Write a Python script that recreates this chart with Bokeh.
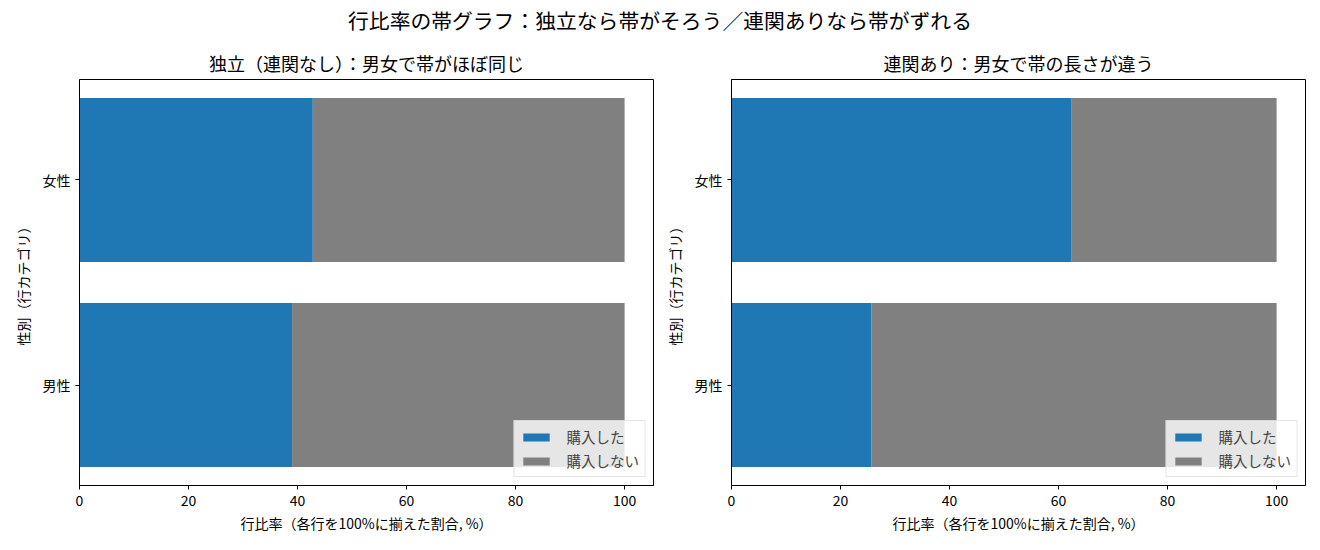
from bokeh.plotting import figure
from bokeh.models import Range1d, FixedTicker, Div, Legend, LegendItem, ColumnDataSource
from bokeh.layouts import column, row
from bokeh.embed import file_html
from bokeh.resources import INLINE

FONT = "Noto Sans CJK JP"

suptitle = "行比率の帯グラフ：独立なら帯がそろう／連関ありなら帯がずれる"
titles = ["独立（連関なし）：男女で帯がほぼ同じ", "連関あり：男女で帯の長さが違う"]
categories = ["男性", "女性"]
series = ["購入した", "購入しない"]
colors = ["#1f77b4", "#808080"]
indep_bought = [39.0, 42.8]
assoc_bought = [25.7, 62.3]
x_ticks = [0, 20, 40, 60, 80, 100]
x_label = "行比率（各行を100%に揃えた割合, %）"
y_label = "性別（行カテゴリ）"


def make(title, bought, bl, br):
    p = figure(width=660, height=510, x_range=Range1d(0, 105.3), y_range=Range1d(-0.49, 1.49),
               output_backend="svg", toolbar_location=None,
               min_border_left=bl, min_border_right=br, min_border_top=39, min_border_bottom=65,
               title=title)
    src = ColumnDataSource(dict(y=list(range(len(categories))), b=bought,
                                nb=[100 - v for v in bought]))
    rs = p.hbar_stack(["b", "nb"], y="y", height=0.8, color=colors, line_color=None, source=src)
    legend = Legend(items=[LegendItem(label=s, renderers=[r]) for s, r in zip(series, rs)],
                    location="bottom_right")
    legend.label_text_font = FONT
    legend.label_text_font_size = "14.5px"
    legend.glyph_width = 33
    legend.glyph_height = 10
    legend.label_standoff = 14
    legend.label_height = 20
    legend.spacing = 3
    legend.padding = 5
    legend.margin = 8
    legend.border_line_color = "#cccccc"
    legend.background_fill_alpha = 0.8
    p.add_layout(legend)

    p.title.text_font = FONT
    p.title.text_font_size = "18px"
    p.title.text_font_style = "normal"
    p.title.text_color = "black"
    p.title.align = "center"
    p.title.standoff = 8

    p.grid.visible = False
    p.outline_line_color = "black"
    p.outline_line_alpha = 1
    p.outline_line_width = 1

    p.xaxis.ticker = FixedTicker(ticks=x_ticks)
    p.yaxis.ticker = FixedTicker(ticks=[0, 1])
    p.yaxis.major_label_overrides = {i: c for i, c in enumerate(categories)}
    p.xaxis.axis_label = x_label
    p.yaxis.axis_label = y_label
    for ax in (p.xaxis, p.yaxis):
        ax.axis_line_color = "black"
        ax.major_tick_line_color = "black"
        ax.minor_tick_line_color = None
        ax.major_tick_in = 0
        ax.major_tick_out = 4
        ax.major_label_text_font = FONT
        ax.major_label_text_font_size = "14px"
        ax.major_label_text_color = "black"
        ax.axis_label_text_font = FONT
        ax.axis_label_text_font_size = "14px"
        ax.axis_label_text_font_style = "normal"
        ax.axis_label_text_color = "black"
    p.xaxis.major_label_standoff = 5
    p.xaxis.axis_label_standoff = 4
    p.yaxis.major_label_standoff = 5
    p.yaxis.axis_label_standoff = 7
    return p


p1 = make(titles[0], indep_bought, 79, 7)
p2 = make(titles[1], assoc_bought, 71, 15)

div = Div(text=suptitle, width=1320, height=40, margin=0,
          styles={"font-family": FONT, "font-size": "20.8px", "text-align": "center",
                  "line-height": "40px", "width": "1320px", "color": "black"})

layout = column(div, row(p1, p2, spacing=0), spacing=0)
open("out.html", "w").write(file_html(layout, INLINE))
